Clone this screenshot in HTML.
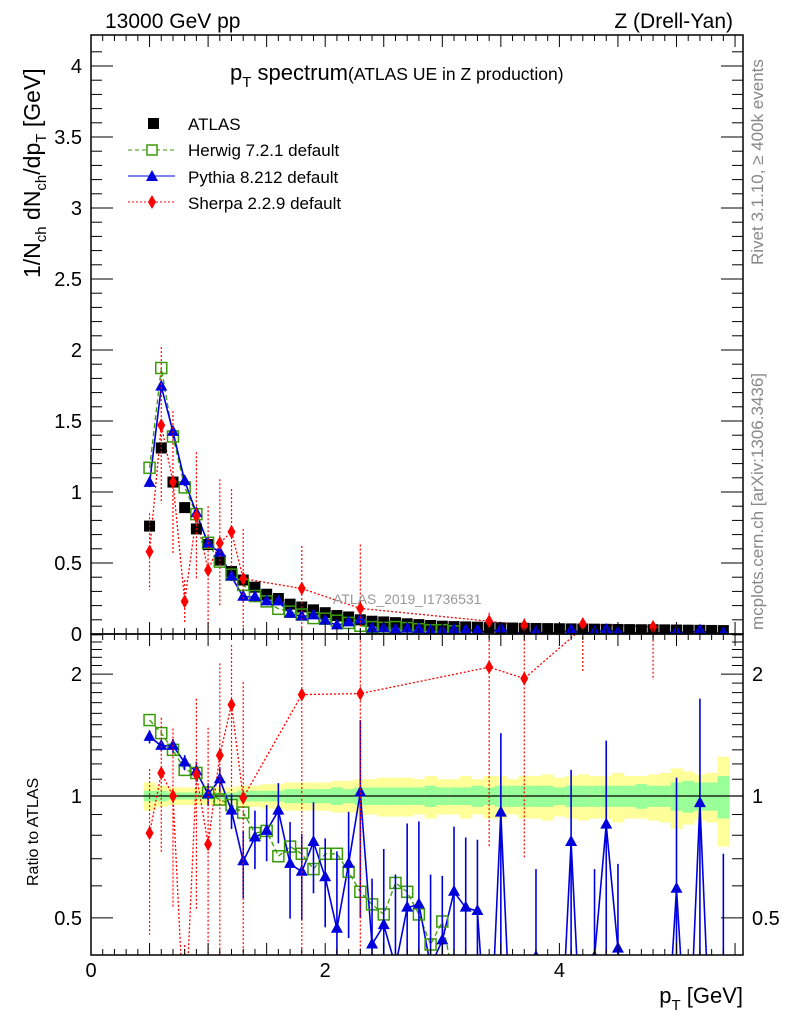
<!DOCTYPE html>
<html><head><meta charset="utf-8"><style>
html,body{margin:0;padding:0;background:#fff;overflow:hidden;width:786px;height:1024px;}
svg{display:block;font-family:"Liberation Sans",Arial,sans-serif;}
</style></head><body>
<svg id="chart" width="786" height="1024" xmlns="http://www.w3.org/2000/svg">
<defs>
<clipPath id="cm"><rect x="91" y="35" width="652" height="599"/></clipPath>
<clipPath id="cr"><rect x="91" y="634" width="652" height="321"/></clipPath>
</defs>
<g id="bands" clip-path="url(#cr)"></g>
<g id="main" clip-path="url(#cm)"></g>
<g id="ratio" clip-path="url(#cr)"></g>
<g id="axes"></g>
<text x="105" y="28" font-size="21">13000 GeV pp</text>
<text x="733" y="28" font-size="21" text-anchor="end">Z (Drell-Yan)</text>
<text x="230" y="80" font-size="22">p<tspan font-size="15" dy="7">T</tspan><tspan dy="-7"> spectrum</tspan><tspan font-size="17.5">(ATLAS UE in Z production)</tspan></text>
<text x="333" y="604" font-size="14" fill="#999">ATLAS_2019_I1736531</text>
<text transform="translate(763,265) rotate(-90)" font-size="17" fill="#888">Rivet 3.1.10, ≥ 400k events</text>
<text transform="translate(763,630) rotate(-90)" font-size="17" fill="#888">mcplots.cern.ch [arXiv:1306.3436]</text>
<text transform="translate(40,278) rotate(-90)" font-size="23">1/N<tspan font-size="15" dy="6">ch</tspan><tspan dy="-6"> dN</tspan><tspan font-size="15" dy="6">ch</tspan><tspan dy="-6">/dp</tspan><tspan font-size="15" dy="6">T</tspan><tspan dy="-6"> [GeV]</tspan></text>
<text transform="translate(38,886) rotate(-90)" font-size="16">Ratio to ATLAS</text>
<text x="743" y="1003" font-size="22" text-anchor="end">p<tspan font-size="15" dy="7">T</tspan><tspan dy="-7"> [GeV]</tspan></text>
<g id="legend">
<rect x="148" y="118" width="11" height="11" fill="#000"/>
<text x="188" y="130" font-size="17">ATLAS</text>
<line x1="128" y1="150" x2="175" y2="150" stroke="#3a9a0a" stroke-dasharray="4,3"/>
<rect x="147" y="145" width="10" height="10" fill="#fff" stroke="#3a9a0a" stroke-width="1.5"/>
<text x="188" y="156" font-size="17">Herwig 7.2.1 default</text>
<line x1="128" y1="176" x2="175" y2="176" stroke="#0000dd"/>
<path d="M152,170 L158,181 L146,181 Z" fill="#0000dd"/>
<text x="188" y="183" font-size="17">Pythia 8.212 default</text>
<line x1="128" y1="202" x2="175" y2="202" stroke="#f00" stroke-dasharray="2,2"/>
<path d="M152,195 L156,202 L152,209 L148,202 Z" fill="#f00"/>
<text x="188" y="209" font-size="17">Sherpa 2.2.9 default</text>
</g>
</svg>
<script>
// ---- data ----
const ptBins = [0.5,0.6,0.7,0.8,0.9,1.0,1.1,1.2,1.3,1.4,1.5,1.6,1.7,1.8,1.9,2.0,2.1,2.2,2.3,2.4,2.5,2.6,2.7,2.8,2.9,3.0,3.1,3.2,3.3,3.4,3.5,3.6,3.7,3.8,3.9,4.0,4.1,4.2,4.3,4.4,4.5,4.6,4.7,4.8,4.9,5.0,5.1,5.2,5.3,5.4];
const atlasValues = [0.76,1.31,1.07,0.89,0.74,0.63,0.52,0.44,0.38,0.33,0.28,0.25,0.21,0.19,0.17,0.15,0.13,0.12,0.10,0.09,0.085,0.08,0.072,0.066,0.06,0.055,0.052,0.05,0.048,0.045,0.043,0.042,0.04,0.039,0.038,0.037,0.036,0.035,0.034,0.033,0.032,0.031,0.03,0.03,0.029,0.028,0.027,0.026,0.025,0.024];
const herwigRatio = [1.54,1.43,1.30,1.16,1.14,1.02,0.98,0.95,0.91,0.81,0.82,0.71,0.75,0.72,0.66,0.72,0.72,0.65,0.58,0.54,0.51,0.61,0.58,0.51,0.43,0.49,0.35,0.3,0.3,0.3,0.3,0.3,0.3,0.3,0.3,0.3,0.3,0.3,0.3,0.3,0.3,0.3,0.3,0.3,0.3,0.3,0.3,0.3,0.3,0.3];
const pythiaRatio = [1.40,1.33,1.33,1.21,1.15,1.01,1.10,0.92,0.69,0.79,0.82,0.92,0.68,0.65,0.77,0.63,0.47,0.68,1.02,0.43,0.48,0.38,0.53,0.54,0.38,0.44,0.58,0.53,0.52,0.2,0.91,0.2,0.2,0.40,0.2,0.2,0.77,0.2,0.40,0.85,0.42,0.2,0.2,0.2,0.2,0.59,0.2,0.96,0.2,0.33];
const pythiaErr = [0.04,0.03,0.04,0.04,0.05,0.05,0.06,0.07,0.1,0.1,0.1,0.12,0.14,0.12,0.15,0.12,0.2,0.18,0.4,0.15,0.2,0.2,0.25,0.25,0.2,0.15,0.2,0.2,0.2,0,0.4,0,0,0.2,0,0,0.3,0,0.2,0.4,0.2,0,0,0,0,0.4,0,0.6,0,0.3];
const sherpaPt = [0.5,0.6,0.7,0.8,0.9,1.0,1.1,1.2,1.3,1.8,2.3,3.4,3.7,4.2,4.8];
const sherpaValues = [0.58,1.47,1.07,0.23,0.83,0.45,0.64,0.72,0.39,0.32,0.18,0.09,0.06,0.07,0.05];
const sherpaRatio = [0.81,1.14,1.0,0.26,1.13,0.76,1.26,1.68,0.99,1.78,1.79,2.08,1.95,2.6,2.6];
const sherpaErrMain = [0.27,0.55,0.5,0.15,0.45,0.45,0.45,0.3,0.35,0.3,0.45,0.06,0.05,0.02,0.02];
const bandInner = [0.03,0.03,0.02,0.02,0.02,0.02,0.02,0.02,0.03,0.03,0.03,0.03,0.04,0.04,0.04,0.04,0.05,0.04,0.05,0.05,0.05,0.05,0.05,0.05,0.06,0.05,0.05,0.05,0.06,0.05,0.06,0.06,0.06,0.06,0.06,0.05,0.06,0.06,0.06,0.06,0.06,0.06,0.07,0.06,0.06,0.08,0.09,0.08,0.08,0.12];
const bandOuter = [0.08,0.06,0.05,0.05,0.05,0.05,0.05,0.05,0.06,0.06,0.07,0.07,0.08,0.08,0.08,0.08,0.09,0.09,0.1,0.1,0.11,0.11,0.11,0.1,0.12,0.1,0.1,0.12,0.1,0.12,0.12,0.1,0.12,0.12,0.13,0.11,0.12,0.13,0.12,0.12,0.14,0.12,0.12,0.13,0.14,0.17,0.15,0.13,0.14,0.25];
const xTickLabels = [0,2,4];
const mainTickLabels = [0,0.5,1,1.5,2,2.5,3,3.5,4];
const ratioTickLabels = [0.5,1,2];

// ---- axes ----
const X = v => 91 + v*117.1;
const YM = v => 634 - v*142;
const YR = v => 796 - 405*Math.log10(v);
const NS = "http://www.w3.org/2000/svg";
function mk(parent, tag, attrs){const e=document.createElementNS(NS,tag);for(const k in attrs)e.setAttribute(k,attrs[k]);parent.appendChild(e);return e;}
const gM=document.getElementById('main'), gR=document.getElementById('ratio'), gB=document.getElementById('bands'), gA=document.getElementById('axes');
const hw=0.05;

ptBins.forEach((p,i)=>{
  const o=mk(gB,'rect',{x:X(p-hw),width:X(p+hw)-X(p-hw)+0.5,y:YR(1+bandOuter[i]),height:YR(1-bandOuter[i])-YR(1+bandOuter[i]),fill:'#ffff99'});
  
  
  const n=mk(gB,'rect',{x:X(p-hw),width:X(p+hw)-X(p-hw)+0.5,y:YR(1+bandInner[i]),height:YR(1-bandInner[i])-YR(1+bandInner[i]),fill:'#99ff99'});
  
  
});
const one=mk(gR,'line',{x1:91,x2:743,y1:YR(1),y2:YR(1),stroke:'#000','stroke-width':1.2});



function series(g,xs,ys,yf,color,dash,name,w){
  const pts=xs.map((p,i)=>X(p).toFixed(1)+','+yf(ys[i]).toFixed(1)).join(' ');
  const l=mk(g,'polyline',{points:pts,fill:'none',stroke:color,'stroke-width':w||1.3,'stroke-dasharray':dash});
  
  
}
function sq(g,x,y,fill,stroke,name){const r=mk(g,'rect',{x:x-5.5,y:y-5.5,width:11,height:11,fill:fill,stroke:stroke,'stroke-width':1.5});
  
  }
function tri(g,x,y,name){const t=mk(g,'path',{d:`M${x},${y-7} L${x+6},${y+4} L${x-6},${y+4} Z`,fill:'#0000dd'});
  
  }
function dia(g,x,y,name){const d=mk(g,'path',{d:`M${x},${y-7} L${x+4},${y} L${x},${y+7} L${x-4},${y} Z`,fill:'#f00'});
  
  }
function err(g,x,y1,y2,color,dash,w){const e=mk(g,'line',{x1:x,x2:x,y1:y1,y2:y2,stroke:color,'stroke-width':w||1.2,'stroke-dasharray':dash});
  
  }

const herwigMain=ptBins.map((p,i)=>atlasValues[i]*herwigRatio[i]);
const pythiaMain=ptBins.map((p,i)=>atlasValues[i]*pythiaRatio[i]);
series(gM,sherpaPt,sherpaValues,YM,'#f00','2,2','sherpa-main');
series(gM,ptBins,herwigMain,YM,'#3a9a0a','5,3','herwig-main');
series(gM,ptBins,pythiaMain,YM,'#0000dd','','pythia-main',1.6);
ptBins.forEach((p,i)=>sq(gM,X(p),YM(atlasValues[i]),'#000','none','atlas-point'));
ptBins.forEach((p,i)=>{ if(herwigRatio[i]>0.31) sq(gM,X(p),YM(herwigMain[i]),'none','#3a9a0a','herwig-point');});
ptBins.forEach((p,i)=>{ if(pythiaRatio[i]>0.21){ const e=atlasValues[i]*pythiaErr[i]; err(gM,X(p),YM(pythiaMain[i]+e),YM(pythiaMain[i]-e),'#0000dd',''); tri(gM,X(p),YM(pythiaMain[i]),'pythia-point');}});
sherpaPt.forEach((p,i)=>{ err(gM,X(p),YM(sherpaValues[i]+sherpaErrMain[i]),YM(Math.max(0,sherpaValues[i]-sherpaErrMain[i])),'#f00','2,2'); dia(gM,X(p),YM(sherpaValues[i]),'sherpa-point');});

series(gR,sherpaPt,sherpaRatio,YR,'#f00','2,2','sherpa-ratio');
series(gR,ptBins,herwigRatio,YR,'#3a9a0a','5,3','herwig-ratio');
series(gR,ptBins,pythiaRatio,YR,'#0000dd','','pythia-ratio',1.6);
ptBins.forEach((p,i)=>sq(gR,X(p),YR(herwigRatio[i]),'none','#3a9a0a','herwig-ratio-point'));
ptBins.forEach((p,i)=>{ if(pythiaErr[i]>0){ const r=pythiaRatio[i],e=pythiaErr[i]*1.3; err(gR,X(p),YR(r+e),YR(Math.max(0.05,r-e)),'#0000dd','',1.6);} tri(gR,X(p),YR(pythiaRatio[i]),'pythia-ratio-point');});
sherpaPt.forEach((p,i)=>{ const r=sherpaRatio[i],e=sherpaErrMain[i]/atlasValues[ptBins.indexOf(p)>=0?ptBins.indexOf(p):0]; err(gR,X(p),YR(r+e),YR(Math.max(0.05,r-e)),'#f00','2,2'); dia(gR,X(p),YR(r),'sherpa-ratio-point');});

[[35,599],[634,321]].forEach(([y,h])=>{const f=mk(gA,'rect',{x:91,y:y,width:652,height:h,fill:'none',stroke:'#000','stroke-width':1.5});
  
  });
for(let v=0;v<=5.5;v+=0.1){
  const major=Math.abs(v*2-Math.round(v*2))<1e-6, L=major?12:6, x=X(v);
  [[35,1],[634,-1],[634,1],[955,-1]].forEach(([y,s])=>mk(gA,'line',{x1:x,x2:x,y1:y,y2:y+s*L,stroke:'#000'}));
}
for(let v=0;v<=4.2;v+=0.1){
  const major=Math.abs(v*2-Math.round(v*2))<1e-6, L=major?22:11, y=YM(v);
  mk(gA,'line',{x1:91,x2:91+L,y1:y,y2:y,stroke:'#000'}); mk(gA,'line',{x1:743,x2:743-L,y1:y,y2:y,stroke:'#000'});
}
[0.5,0.6,0.7,0.8,0.9,1,2].forEach(v=>{const major=[0.5,1,2].includes(v), L=major?22:11, y=YR(v);
  mk(gA,'line',{x1:91,x2:91+L,y1:y,y2:y,stroke:'#000'}); mk(gA,'line',{x1:743,x2:743-L,y1:y,y2:y,stroke:'#000'});});
for(let k=0;k<40;k++){const v=1+k*0.1; if(v>2.5)break; if(Math.abs(v-1)<1e-6||Math.abs(v-2)<1e-6)continue; const y=YR(v);
  mk(gA,'line',{x1:91,x2:102,y1:y,y2:y,stroke:'#000'}); mk(gA,'line',{x1:743,x2:732,y1:y,y2:y,stroke:'#000'});}
xTickLabels.forEach(v=>{const t=mk(gA,'text',{x:X(v),y:977,'font-size':20,'text-anchor':'middle'});t.textContent=v;
  
  });
mainTickLabels.forEach(v=>{const t=mk(gA,'text',{x:82,y:YM(v)+7,'font-size':20,'text-anchor':'end'});t.textContent=v;
  
  });
ratioTickLabels.forEach(v=>{[[82,'end'],[752,'start']].forEach(([x,a])=>{const t=mk(gA,'text',{x:x,y:YR(v)+7,'font-size':20,'text-anchor':a});t.textContent=v;
  
  });});
</script>
</body></html>
